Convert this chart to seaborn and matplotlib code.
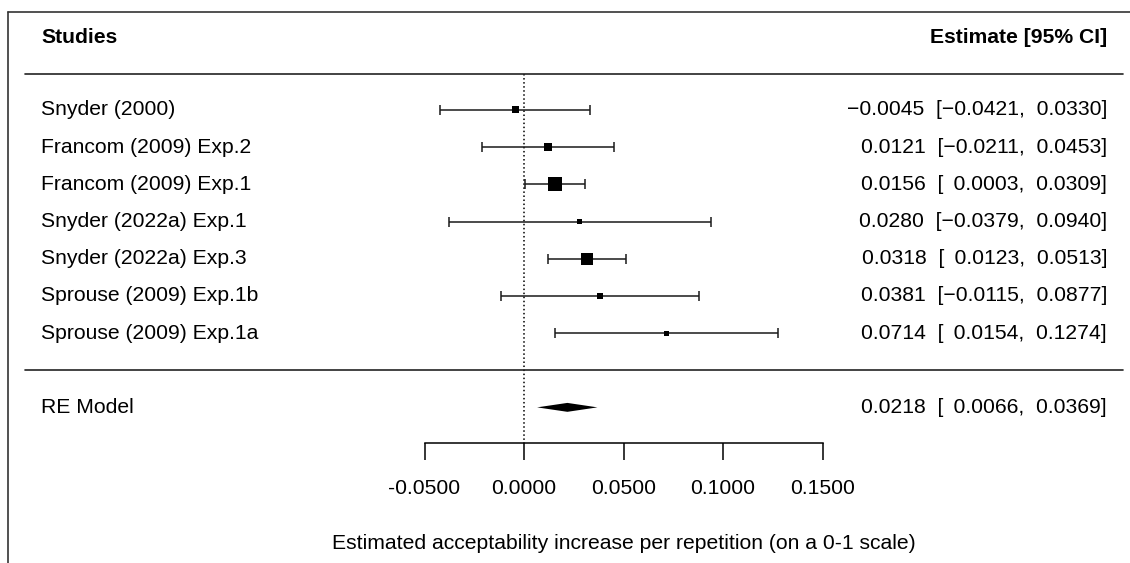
"""
plot.py
-------
Forest plot of the per-repetition acceptability increase across studies,
with the random-effects (RE) model summary at the bottom.
"""

import numpy as np
import matplotlib
matplotlib.use("Agg")
import matplotlib.pyplot as plt
import matplotlib.transforms as mtransforms
from matplotlib.lines import Line2D
import seaborn as sns

# --- Data ---
studies = [
    "Snyder (2000)",
    "Francom (2009) Exp.2",
    "Francom (2009) Exp.1",
    "Snyder (2022a) Exp.1",
    "Snyder (2022a) Exp.3",
    "Sprouse (2009) Exp.1b",
    "Sprouse (2009) Exp.1a",
]
estimates = [-0.0045, 0.0121, 0.0156, 0.0280, 0.0318, 0.0381, 0.0714]
ci_low = [-0.0421, -0.0211, 0.0003, -0.0379, 0.0123, -0.0115, 0.0154]
ci_high = [0.0330, 0.0453, 0.0309, 0.0940, 0.0513, 0.0877, 0.1274]
weights = [9.2, 10.5, 36.9, 4.7, 27.1, 6.8, 4.7]

re_label = "RE Model"
re_est, re_low, re_high = 0.0218, 0.0066, 0.0369

x_ticks = [-0.05, 0.0, 0.05, 0.10, 0.15]
x_label = "Estimated acceptability increase per repetition (on a 0-1 scale)"

# --- Layout (in row units, first study = row 0) ---
HEADER_Y = -1.94
HEADER_LINE = -0.97
SEP_LINE = 7.0
RE_ROW = 8.0
AXIS_Y = 8.96
XLABEL_Y = 11.65
FONT_SIZE = 15.2


def fmt(v):
    s = f"{abs(v):.4f}"
    return ("\u2212" + s) if v < 0 else s


def fmt_ci(est, lo, hi):
    # pad positive bounds so the numbers roughly line up with signed ones
    lo_s = fmt(lo) if lo < 0 else " \u2009" + fmt(lo)
    hi_s = fmt(hi) if hi < 0 else " " + fmt(hi)
    return f"{fmt(est)}  [{lo_s}, {hi_s}]"


sns.set_theme(style="white")
plt.rcParams["font.family"] = ["Liberation Sans", "DejaVu Sans"]
plt.rcParams["axes.unicode_minus"] = False

fig = plt.figure(figsize=(11.3, 5.63), dpi=100)
ax = fig.add_axes([0, 0, 1, 1])
ax.set_xlim(-524 / 1990, 606 / 1990)
ax.set_ylim(12.187, -2.959)

rows = np.arange(len(studies))
est = np.array(estimates)
lo = np.array(ci_low)
hi = np.array(ci_high)

# confidence intervals
ax.errorbar(est, rows, xerr=[est - lo, hi - est], fmt="none",
            ecolor="#1a1a1a", elinewidth=1.1, capsize=3.6, capthick=1.1,
            zorder=2)

# squares sized by weight
sns.scatterplot(x=est, y=rows, size=weights, sizes=(13, 101.6),
                marker="s", color="black", edgecolor="none",
                legend=False, ax=ax, zorder=3)

# summary diamond
half_h = 0.12
ax.fill([re_low, re_est, re_high, re_est],
        [RE_ROW, RE_ROW - half_h, RE_ROW, RE_ROW + half_h],
        color="black", lw=0, zorder=3)

# reference line at zero
ax.vlines(0, HEADER_LINE, AXIS_Y, colors="black", linestyles=":", lw=1.1,
          zorder=1)

# separators
for yl in (HEADER_LINE, SEP_LINE):
    ax.axhline(yl, xmin=25 / 1130, xmax=1123 / 1130, color="#222222", lw=1.2)

# text columns
blend = mtransforms.blended_transform_factory(ax.transAxes, ax.transData)
x_left, x_right = 41 / 1130, 1107 / 1130

ax.text(x_left, HEADER_Y, "Studies", transform=blend, ha="left", va="center",
        fontsize=FONT_SIZE, fontweight="bold", color="black")
ax.text(x_right, HEADER_Y, "Estimate [95% CI]", transform=blend, ha="right",
        va="center", fontsize=FONT_SIZE, fontweight="bold", color="black")

for r, name, e, l, h in zip(rows, studies, estimates, ci_low, ci_high):
    ax.text(x_left, r, name, transform=blend, ha="left", va="center",
            fontsize=FONT_SIZE, color="black")
    ax.text(x_right, r, fmt_ci(e, l, h), transform=blend, ha="right",
            va="center", fontsize=FONT_SIZE, color="black")

ax.text(x_left, RE_ROW, re_label, transform=blend, ha="left", va="center",
        fontsize=FONT_SIZE, color="black")
ax.text(x_right, RE_ROW, fmt_ci(re_est, re_low, re_high), transform=blend,
        ha="right", va="center", fontsize=FONT_SIZE, color="black")

# x axis drawn on the bottom spine, moved up to the axis row
for side in ("top", "right", "left"):
    ax.spines[side].set_visible(False)
ax.spines["bottom"].set_position(("data", AXIS_Y))
ax.spines["bottom"].set_bounds(x_ticks[0], x_ticks[-1])
ax.spines["bottom"].set_color("black")
ax.spines["bottom"].set_linewidth(1.1)
ax.set_xticks(x_ticks)
ax.set_xticklabels([f"{t:.4f}" for t in x_ticks])
ax.tick_params(axis="x", bottom=True, direction="out", length=12.2,
               width=1.1, color="black", pad=13.5, labelsize=FONT_SIZE,
               labelcolor="black")
ax.set_yticks([])
ax.text(np.mean([x_ticks[0], x_ticks[-1]]), XLABEL_Y, x_label, ha="center",
        va="center", fontsize=FONT_SIZE, color="black")

# outer frame (left and top edges visible in the crop)
frame_kw = dict(color="#333333", lw=1.2, transform=fig.transFigure)
fig.add_artist(Line2D([7.5 / 1130, 7.5 / 1130], [0, 1 - 12 / 563], **frame_kw))
fig.add_artist(Line2D([7.5 / 1130, 1], [1 - 12 / 563, 1 - 12 / 563], **frame_kw))

fig.savefig("out.png", dpi=100, facecolor="white")
plt.close(fig)
